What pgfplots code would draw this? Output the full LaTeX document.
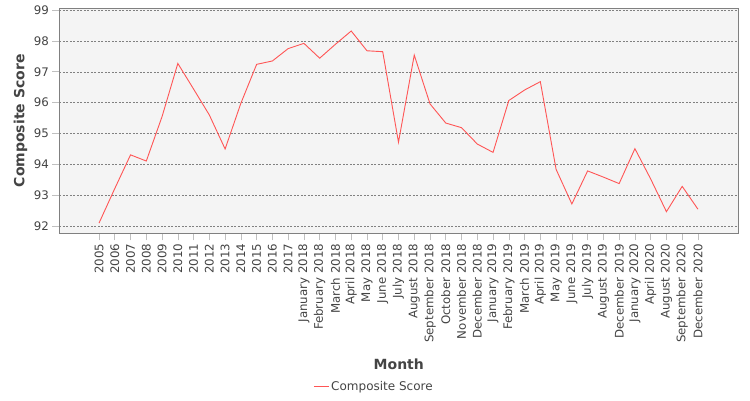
\documentclass[border=0pt]{standalone}
\usepackage{pgfplots}
\pgfplotsset{compat=1.18}
\usepackage{fontspec}
\setmainfont{DejaVu Sans}
\definecolor{SeriesRed}{HTML}{FF5555}
\definecolor{PlotBg}{HTML}{F4F4F4}
\definecolor{TextGray}{HTML}{444444}
\definecolor{GridGray}{HTML}{808080}
\definecolor{BorderGray}{HTML}{808080}
\definecolor{AxisGray}{HTML}{C0C0C0}

% Composite score per period (x = category index)
\pgfplotstableread{
x  y
0  92.10
1  93.22
2  94.31
3  94.11
4  95.55
5  97.27
6  96.44
7  95.60
8  94.50
9  95.98
10 97.24
11 97.35
12 97.75
13 97.92
14 97.44
15 97.89
16 98.32
17 97.68
18 97.65
19 94.72
20 97.54
21 95.96
22 95.34
23 95.19
24 94.66
25 94.39
26 96.07
27 96.41
28 96.68
29 93.84
30 92.72
31 93.79
32 93.59
33 93.38
34 94.51
35 93.53
36 92.47
37 93.29
38 92.55
}\scores

\begin{document}
\begin{tikzpicture}
\path[use as bounding box] (0,0) rectangle (750pt,400pt);
\begin{axis}[
  at={(59.3pt,166.7pt)}, anchor=south west,
  scale only axis,
  width=679pt, height=225pt,
  xmin=-2.52, xmax=40.56,
  ymin=91.77, ymax=99.055,
  axis background/.style={fill=PlotBg},
  axis line style={BorderGray, line width=0.8pt},
  xtick={0,...,38},
  xticklabels={2005,2006,2007,2008,2009,2010,2011,2012,2013,2014,2015,2016,2017,
    January 2018,February 2018,March 2018,April 2018,May 2018,June 2018,July 2018,
    August 2018,September 2018,October 2018,November 2018,December 2018,
    January 2019,February 2019,March 2019,April 2019,May 2019,June 2019,July 2019,
    August 2019,December 2019,January 2020,April 2020,August 2020,September 2020,
    December 2020},
  ytick={92,93,...,99},
  xtick pos=bottom, ytick pos=left,
  tick align=outside,
  major tick length=7pt,
  tick style={AxisGray, line width=0.6pt},
  ymajorgrids,
  grid style={GridGray, line width=0.5pt, dash pattern=on 2pt off 1.5pt},
  /pgf/number format/assume math mode=true,
  ticklabel style={font=\fontsize{11.8}{13}\selectfont, text=TextGray},
  xticklabel style={rotate=90, anchor=east},
  xlabel={Month},
  ylabel={Composite Score},
  label style={font=\fontsize{14}{16}\selectfont\bfseries, text=TextGray},
  xlabel style={at={(rel axis cs:0.5,-0.581)}, anchor=center},
  ylabel style={at={(rel axis cs:-0.057,0.5)}, anchor=center, rotate=0},
  legend style={at={(rel axis cs:0.4635,-0.682)}, anchor=center, draw=none,
    fill=none, font=\fontsize{12}{14}\selectfont, text=TextGray,
    inner sep=0pt, row sep=0pt},
  legend image code/.code={\draw[#1] (0pt,0pt) -- (15pt,0pt);},
  legend cell align=left,
]
\addplot[SeriesRed, line width=0.9pt] table[x=x, y=y] {\scores};
\addlegendentry{Composite Score}
\draw[AxisGray, line width=0.6pt] ([yshift=-3.4pt]rel axis cs:0,0) -- ([yshift=-3.4pt]rel axis cs:1,0);
\draw[AxisGray, line width=0.6pt] ([xshift=-4pt]rel axis cs:0,0) -- ([xshift=-4pt]rel axis cs:0,1);
\end{axis}
\end{tikzpicture}
\end{document}
